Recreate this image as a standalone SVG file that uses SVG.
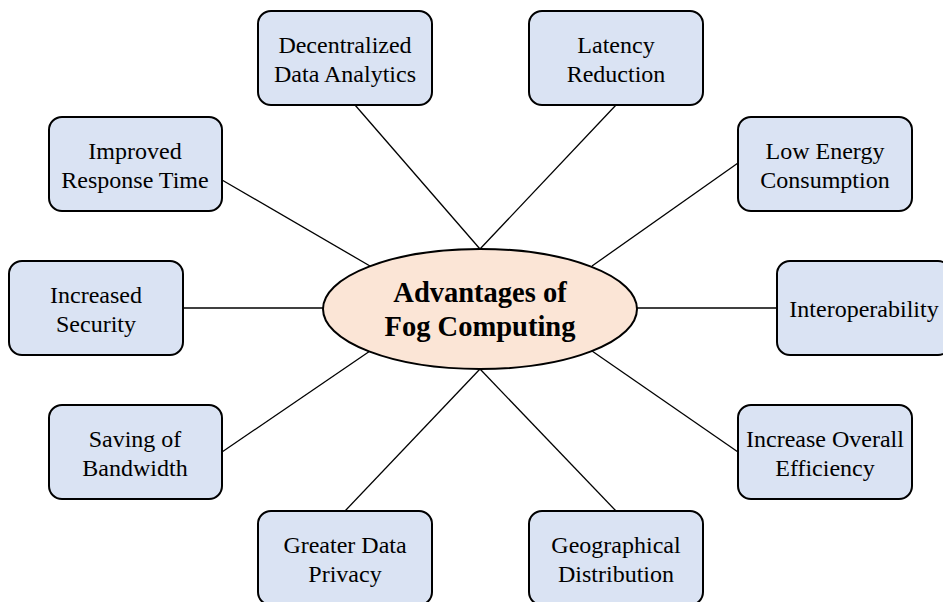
<svg xmlns="http://www.w3.org/2000/svg" width="943" height="602" viewBox="0 0 943 602">
<style>
.box{fill:#dae3f3;stroke:#000;stroke-width:2}
.t{font-family:"Liberation Serif","Times New Roman",serif;font-size:24px;text-anchor:middle;fill:#000}
.c{font-family:"Liberation Serif","Times New Roman",serif;font-size:28.5px;font-weight:bold;text-anchor:middle;fill:#000}
.ln{stroke:#000;stroke-width:1.3;fill:none}
</style>
<rect width="943" height="602" fill="#fff"/>
<g id="connectors">
<line class="ln" x1="355" y1="105" x2="480" y2="249"/>
<line class="ln" x1="616" y1="105" x2="480" y2="249"/>
<line class="ln" x1="222" y1="180" x2="370" y2="266"/>
<line class="ln" x1="738" y1="163" x2="592" y2="266"/>
<line class="ln" x1="183" y1="308" x2="323" y2="308"/>
<line class="ln" x1="637" y1="308" x2="777" y2="308"/>
<line class="ln" x1="222" y1="452" x2="370" y2="351"/>
<line class="ln" x1="738" y1="452" x2="592" y2="351"/>
<line class="ln" x1="345" y1="511" x2="480" y2="369"/>
<line class="ln" x1="616" y1="511" x2="480" y2="369"/>
</g>
<g id="center">
<ellipse cx="480" cy="309" rx="157" ry="60" fill="#fbe5d6" stroke="#000" stroke-width="2"/>
<text class="c" x="480" y="302">Advantages of</text>
<text class="c" x="480" y="336">Fog Computing</text>
</g>
<g id="n1"><rect class="box" x="258" y="11" width="174" height="94" rx="13"/><text class="t" x="345" y="53">Decentralized</text><text class="t" x="345" y="82">Data Analytics</text></g>
<g id="n2"><rect class="box" x="529" y="11" width="174" height="94" rx="13"/><text class="t" x="616" y="53">Latency</text><text class="t" x="616" y="82">Reduction</text></g>
<g id="n3"><rect class="box" x="49" y="117" width="173" height="94" rx="13"/><text class="t" x="135" y="159">Improved</text><text class="t" x="135" y="188">Response Time</text></g>
<g id="n4"><rect class="box" x="738" y="117" width="174" height="94" rx="13"/><text class="t" x="825" y="159">Low Energy</text><text class="t" x="825" y="188">Consumption</text></g>
<g id="n5"><rect class="box" x="9" y="261" width="174" height="94" rx="13"/><text class="t" x="96" y="303">Increased</text><text class="t" x="96" y="332">Security</text></g>
<g id="n6"><rect class="box" x="777" y="261" width="174" height="94" rx="13"/><text class="t" x="864" y="317">Interoperability</text></g>
<g id="n7"><rect class="box" x="49" y="405" width="173" height="94" rx="13"/><text class="t" x="135" y="447">Saving of</text><text class="t" x="135" y="476">Bandwidth</text></g>
<g id="n8"><rect class="box" x="738" y="405" width="174" height="94" rx="13"/><text class="t" x="825" y="447">Increase Overall</text><text class="t" x="825" y="476">Efficiency</text></g>
<g id="n9"><rect class="box" x="258" y="511" width="174" height="94" rx="13"/><text class="t" x="345" y="553">Greater Data</text><text class="t" x="345" y="582">Privacy</text></g>
<g id="n10"><rect class="box" x="529" y="511" width="174" height="94" rx="13"/><text class="t" x="616" y="553">Geographical</text><text class="t" x="616" y="582">Distribution</text></g>
</svg>
